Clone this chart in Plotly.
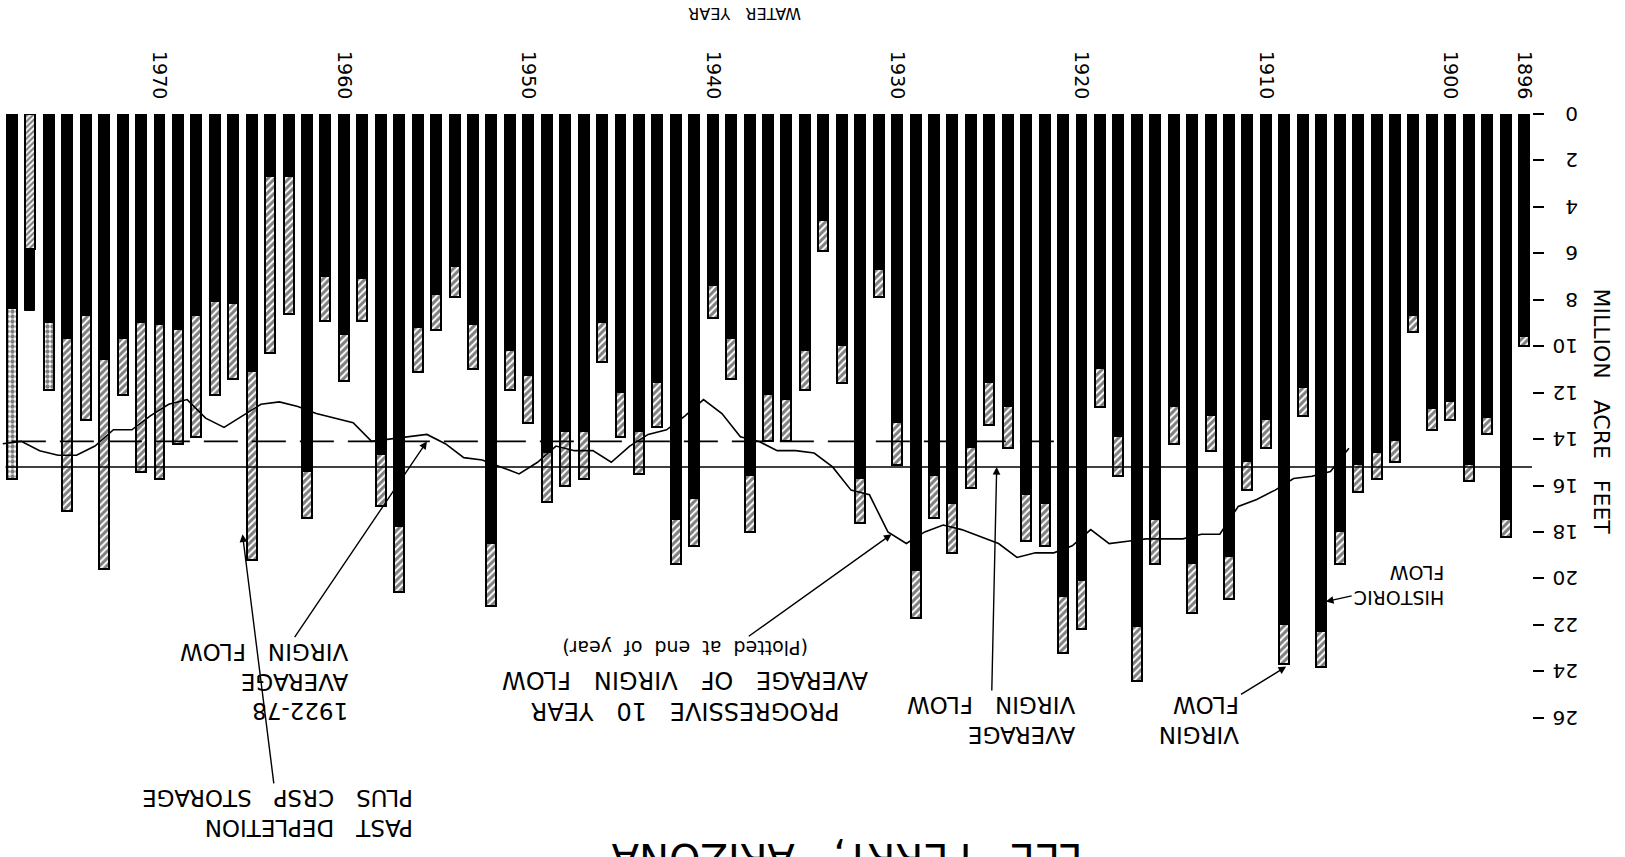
import plotly.graph_objects as go

# ---------------- data ----------------
years = list(range(1896, 1979))
historic_flow = [
    9.6, 17.5, 13.1, 15.1, 12.4, 12.7, 8.7, 14.1, 14.6, 15.1,      # 1896-1905
    18.0, 22.3, 11.8, 22.0, 13.2, 15.0, 19.1, 13.0, 19.4, 12.6,    # 1906-1915
    17.5, 22.1, 13.9, 11.0, 20.1, 20.8, 16.8, 16.4, 12.6, 11.6,    # 1916-1925
    14.4, 16.8, 15.6, 19.7, 13.3, 6.7, 15.7, 10.0, 4.6, 10.2,      # 1926-1935
    12.3, 12.1, 15.6, 9.7, 7.4, 16.6, 17.5, 11.6, 13.7, 12.0,      # 1936-1945
    9.0, 13.7, 13.7, 14.6, 11.3, 10.2, 18.5, 9.1, 6.6, 7.8,        # 1946-1955
    9.2, 17.8, 14.7, 7.1, 9.5, 7.0, 15.4, 2.7, 2.7, 11.1,          # 1956-1965
    8.2, 8.1, 8.7, 9.3, 9.1, 9.0, 9.7, 10.6, 8.7, 9.7,             # 1966-1975
    9.0, 8.5, 8.4,                                                 # 1976-1978
]
virgin_flow = [
    10.0, 18.2, 13.8, 15.8, 13.2, 13.6, 9.4, 15.0, 15.7, 16.3,     # 1896-1905
    19.4, 23.8, 13.0, 23.7, 14.4, 16.2, 20.9, 14.5, 21.5, 14.2,    # 1906-1915
    19.4, 24.4, 15.6, 12.6, 22.2, 23.2, 18.6, 18.4, 14.4, 13.4,    # 1916-1925
    16.1, 18.9, 17.4, 21.7, 15.1, 7.9, 17.6, 11.6, 5.9, 11.9,      # 1926-1935
    14.1, 14.1, 18.0, 11.4, 8.8, 18.6, 19.4, 13.5, 15.5, 13.9,     # 1936-1945
    10.7, 15.7, 16.0, 16.7, 13.3, 11.9, 21.2, 11.0, 7.9, 9.3,      # 1946-1955
    11.1, 20.6, 16.9, 8.9, 11.5, 8.9, 17.4, 8.6, 10.3, 19.2,       # 1956-1965
    11.4, 12.1, 13.9, 14.2, 15.7, 15.4, 12.1, 19.6, 13.2, 17.1,    # 1966-1975
    11.9, 5.8, 15.7,                                               # 1976-1978
]
stippled_years = [1976, 1978]

# progressive 10-year average of virgin flow (plotted at end of year)
avg10_years = list(range(1905, 1979))
avg10_values = [
    14.4, 15.4, 15.6, 15.7, 16.2, 16.6, 16.9, 18.1, 18.1, 18.3,    # 1905-1914
    18.3, 18.3, 18.4, 18.5, 17.9, 18.6, 18.9, 18.9, 19.1, 18.5,    # 1915-1924
    18.2, 17.9, 17.7, 18.0, 18.5, 18.0, 16.4, 16.2, 15.2, 14.6,    # 1925-1934
    14.5, 14.5, 14.1, 13.9, 12.9, 12.3, 13.0, 13.6, 13.8, 14.3,    # 1935-1944
    15.0, 14.5, 14.5, 14.3, 15.0, 15.5, 15.2, 14.9, 14.8, 14.2,    # 1945-1954
    13.8, 13.9, 14.0, 14.1, 13.3, 13.1, 12.9, 12.6, 12.4, 12.5,    # 1955-1964
    13.0, 13.5, 13.1, 12.3, 12.5, 13.0, 13.6, 13.6, 14.3, 14.7,    # 1965-1974
    14.7, 14.5, 14.1, 14.2,                                        # 1975-1978
]
avg_all = 15.2          # average virgin flow
avg_1922_78 = 14.1      # 1922-78 average virgin flow
avg_1922_start = 1922

year_ticks = [1896, 1900, 1910, 1920, 1930, 1940, 1950, 1960, 1970]
value_ticks = list(range(0, 27, 2))

# ---------------- figure ----------------
FONT = "DejaVu Sans"
BAR_W = 0.54
fig = go.Figure()

shapes_pat = ['.' if y in stippled_years else '/' for y in years]

# virgin flow (hatched) underneath
fig.add_trace(go.Bar(
    x=years, y=virgin_flow, width=BAR_W,
    marker=dict(color='white',
                line=dict(color='black', width=2),
                pattern=dict(shape=shapes_pat, fgcolor='black', bgcolor='white',
                             size=5, solidity=0.6)),
    showlegend=False, hoverinfo='skip'))

# historic flow (solid black)
fig.add_trace(go.Bar(
    x=years, y=historic_flow, width=BAR_W,
    marker=dict(color='black', line=dict(color='black', width=1)),
    showlegend=False, hoverinfo='skip'))

# years where virgin < historic: hatch drawn on top
over_x = [y for y, h, v in zip(years, historic_flow, virgin_flow) if v < h]
over_y = [v for h, v in zip(historic_flow, virgin_flow) if v < h]
fig.add_trace(go.Bar(
    x=over_x, y=over_y, width=BAR_W,
    marker=dict(color='white', line=dict(color='black', width=2),
                pattern=dict(shape='/', fgcolor='black', bgcolor='white',
                             size=4, solidity=0.55)),
    showlegend=False, hoverinfo='skip'))

# average virgin flow (solid)
fig.add_trace(go.Scatter(
    x=[years[0] - 0.6, years[-1] + 0.35], y=[avg_all, avg_all],
    mode='lines', line=dict(color='black', width=1.6),
    showlegend=False, hoverinfo='skip'))

# 1922-78 average (dashed)
fig.add_trace(go.Scatter(
    x=[avg_1922_start - 0.5, years[-1] + 0.35], y=[avg_1922_78, avg_1922_78],
    mode='lines', line=dict(color='black', width=1.6, dash='34px,14px'),
    showlegend=False, hoverinfo='skip'))

# progressive 10-year average
fig.add_trace(go.Scatter(
    x=[y + 0.5 for y in avg10_years], y=avg10_values,
    mode='lines', line=dict(color='black', width=1.6),
    showlegend=False, hoverinfo='skip'))

# ---------------- annotations (upside-down text) ----------------
sp = '\u00a0\u00a0\u00a0'

def label(text, x, y, tipx, tipy, size=23, align='center'):
    fig.add_annotation(
        x=tipx, y=tipy, xref='x', yref='y',
        ax=x, ay=y, axref='x', ayref='y',
        text=text, textangle=180, align=align,
        font=dict(family=FONT, size=size, color='black'),
        showarrow=True, arrowhead=2, arrowsize=1.1, arrowwidth=1.4,
        arrowcolor='black')

label('HISTORIC<br>FLOW', 1902.8, 20.3, 1906.75, 21.0, size=19, align='left')
label('VIRGIN<br>FLOW', 1913.6, 26.1, 1908.9, 23.8, align='left')
label('AVERAGE<br>VIRGIN' + sp + 'FLOW', 1924.9, 26.1, 1924.6, avg_all, align='left')
label('PROGRESSIVE' + sp + '10' + sp + 'YEAR<br>AVERAGE' + sp + 'OF' + sp + 'VIRGIN' + sp + 'FLOW'
      '<br><span style="font-size:19px">(Plotted\u00a0\u00a0at\u00a0\u00a0end\u00a0\u00a0of\u00a0\u00a0year)</span>',
      1941.5, 24.45, 1930.3, 18.1, size=24)
label('1922-78<br>AVERAGE<br>VIRGIN' + sp + 'FLOW', 1964.3, 24.45, 1955.5, avg_1922_78, align='left')
label('PAST' + sp + 'DEPLETION<br>PLUS' + sp + 'CRSP' + sp + 'STORAGE', 1963.6, 30.1, 1965.5, 18.1,
      align='left')

fig.add_annotation(x=0.553, y=-0.035, xref='paper', yref='paper',
                   text='LEE' + sp + 'FERRY,' + sp + 'ARIZONA', textangle=180,
                   showarrow=False, font=dict(family=FONT, size=40, color='black'))
fig.add_annotation(x=0.486, y=1.15, xref='paper', yref='paper',
                   text='WATER' + sp + 'YEAR', textangle=180, showarrow=False,
                   font=dict(family=FONT, size=16, color='black'))
fig.add_annotation(x=1.055, y=0.6, xref='paper', yref='paper',
                   text='MILLION' + sp + 'ACRE' + sp + 'FEET', textangle=90, showarrow=False,
                   font=dict(family=FONT, size=22, color='black'))

fig.update_layout(
    width=1625, height=857,
    margin=dict(l=0, r=93, t=114, b=0),
    paper_bgcolor='white', plot_bgcolor='white',
    barmode='overlay', bargap=0,
    font=dict(family=FONT, color='black'),
    xaxis=dict(range=[1978.65, 1895.57], side='top', showgrid=False, zeroline=False,
               showline=False, tickvals=year_ticks, ticktext=[str(t) for t in year_ticks],
               tickangle=90, ticks='outside', ticklen=7, tickcolor='rgba(0,0,0,0)',
               tickfont=dict(family=FONT, size=19, color='black')),
    yaxis=dict(range=[32, 0], side='right', showgrid=False, zeroline=False,
               showline=False, tickvals=value_ticks, ticktext=[str(t) for t in value_ticks],
               tickangle=180, ticks='outside', ticklen=11, tickwidth=1.5, tickcolor='black',
               ticklabelstandoff=30, ticklabelshift=-6,
               tickfont=dict(family=FONT, size=20, color='black')),
)

fig.write_html("out.html", config={'displayModeBar': False},
               post_script="document.body.style.margin='0px';document.body.style.overflow='hidden';")
